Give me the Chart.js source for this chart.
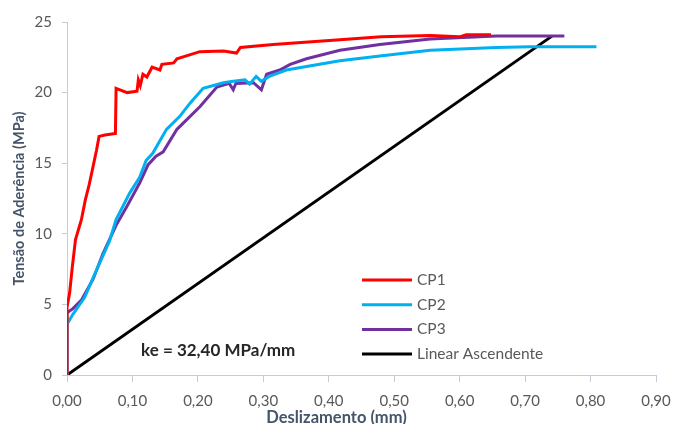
<!DOCTYPE html>
<html>
<head>
<meta charset="utf-8">
<script src="https://cdn.jsdelivr.net/npm/chart.js@4/dist/chart.umd.min.js"></script>
<style>
html,body{margin:0;padding:0;background:#fff;}
canvas{display:block;}
</style>
</head>
<body>
<canvas id="c" width="673" height="424"></canvas>
<script>
// ---- data ----
const seriesNames = ['CP1', 'CP2', 'CP3', 'Linear Ascendente'];

const cp1Slip   = [0, 0, 0.004, 0.008, 0.013, 0.022, 0.028, 0.034, 0.040, 0.045, 0.049, 0.058, 0.074, 0.075, 0.092, 0.107, 0.109, 0.112, 0.116, 0.122, 0.130, 0.142, 0.145, 0.163, 0.168, 0.203, 0.239, 0.259, 0.265, 0.315, 0.417, 0.480, 0.555, 0.600, 0.610, 0.648];
const cp1Stress = [0, 4.8, 5.8, 7.6, 9.6, 11.0, 12.4, 13.5, 14.8, 15.9, 16.9, 17.0, 17.1, 20.3, 20.0, 20.1, 20.9, 20.5, 21.3, 21.1, 21.8, 21.6, 22.0, 22.1, 22.4, 22.9, 22.95, 22.8, 23.2, 23.4, 23.75, 23.95, 24.05, 23.95, 24.1, 24.1];

const cp2Slip   = [0, 0, 0.009, 0.027, 0.040, 0.065, 0.075, 0.096, 0.111, 0.121, 0.131, 0.152, 0.172, 0.188, 0.208, 0.239, 0.254, 0.272, 0.279, 0.289, 0.297, 0.309, 0.335, 0.417, 0.478, 0.555, 0.656, 0.707, 0.809];
const cp2Stress = [0, 3.6, 4.3, 5.5, 6.9, 9.5, 11.0, 12.9, 14.0, 15.2, 15.7, 17.4, 18.3, 19.25, 20.3, 20.7, 20.8, 20.9, 20.6, 21.15, 20.8, 21.15, 21.6, 22.25, 22.6, 23.0, 23.2, 23.25, 23.25];

const cp3Slip   = [0, 0, 0.009, 0.022, 0.040, 0.055, 0.075, 0.091, 0.111, 0.124, 0.136, 0.147, 0.168, 0.203, 0.229, 0.248, 0.254, 0.258, 0.285, 0.297, 0.305, 0.325, 0.341, 0.366, 0.417, 0.478, 0.555, 0.656, 0.760];
const cp3Stress = [0, 4.4, 4.7, 5.3, 6.8, 8.6, 10.6, 11.9, 13.6, 14.9, 15.5, 15.8, 17.4, 19.0, 20.4, 20.65, 20.2, 20.65, 20.7, 20.2, 21.3, 21.6, 22.0, 22.4, 23.0, 23.4, 23.8, 24.0, 24.0];

const linearSlip   = [0, 0.741];
const linearStress = [0, 24.0];

const xTickLabels = ['0,00', '0,10', '0,20', '0,30', '0,40', '0,50', '0,60', '0,70', '0,80', '0,90'];
const yTickLabels = ['0', '5', '10', '15', '20', '25'];

const xTitle = 'Deslizamento (mm)';
const yTitle = 'Tensão de Aderência (MPa)';
const annotationText = 'ke = 32,40 MPa/mm';
const annotationAt = {x: 0.231, y: 1.7};

const colors = ['#ff0000', '#00b0f0', '#7030a0', '#000000'];

// ---- build ----
function pts(xs, ys) { return xs.map((x, i) => ({x: x, y: ys[i]})); }
const pairs = [[cp1Slip, cp1Stress], [cp2Slip, cp2Stress], [cp3Slip, cp3Stress], [linearSlip, linearStress]];

const datasets = pairs.map((p, i) => ({
  label: seriesNames[i],
  data: pts(p[0], p[1]),
  borderColor: colors[i],
  backgroundColor: colors[i],
  borderWidth: 3,
  pointRadius: 0,
  tension: 0,
  fill: false
}));

const FONT = 'Lato, "Open Sans", sans-serif';
const AXIS = '#c3ccd8';
const LABEL = '#595959';
const TITLE = '#44546a';

const extras = {
  id: 'extras',
  afterDraw(chart) {
    const ctx = chart.ctx;
    const xs = chart.scales.x, ys = chart.scales.y;
    const area = chart.chartArea;
    ctx.save();
    // annotation
    ctx.font = 'bold 17px ' + FONT;
    ctx.fillStyle = '#262626';
    ctx.textAlign = 'center';
    ctx.textBaseline = 'middle';
    ctx.fillText(annotationText, xs.getPixelForValue(annotationAt.x), ys.getPixelForValue(annotationAt.y));
    // x title centered on canvas
    ctx.font = 'bold 16.5px ' + FONT;
    ctx.fillStyle = TITLE;
    ctx.fillText(xTitle, chart.width / 2, 418);
    // y title
    ctx.save();
    ctx.translate(19, (area.top + area.bottom) / 2);
    ctx.rotate(-Math.PI / 2);
    ctx.font = 'bold 14.5px ' + FONT;
    ctx.fillText(yTitle, 0, 0);
    ctx.restore();
    // legend
    const lx = 362, ly = 280, gap = 24.7;
    ctx.font = '15.5px ' + FONT;
    ctx.textAlign = 'left';
    chart.data.datasets.forEach((d, i) => {
      const y = ly + i * gap;
      ctx.strokeStyle = d.borderColor;
      ctx.lineWidth = 3;
      ctx.beginPath();
      ctx.moveTo(lx, y);
      ctx.lineTo(lx + 50, y);
      ctx.stroke();
      ctx.fillStyle = LABEL;
      ctx.fillText(d.label, lx + 55, y);
    });
    ctx.restore();
  }
};

new Chart(document.getElementById('c'), {
  type: 'line',
  data: {datasets: datasets},
  plugins: [extras],
  options: {
    responsive: false,
    animation: false,
    devicePixelRatio: 1,
    layout: {padding: {top: 22, right: 17, left: 0, bottom: 0}},
    plugins: {legend: {display: false}, tooltip: {enabled: false}},
    scales: {
      x: {
        type: 'linear',
        min: 0, max: 0.9,
        afterFit: s => { s.height = 49; s.paddingLeft = 0; s.paddingRight = 0; },
        ticks: {
          stepSize: 0.1,
          padding: 10,
          maxRotation: 0,
          autoSkip: false,
          color: LABEL,
          font: {family: FONT, size: 15},
          callback: (v, i) => xTickLabels[i]
        },
        grid: {drawOnChartArea: false, drawTicks: true, tickLength: 7, color: AXIS},
        border: {display: true, color: AXIS, width: 1}
      },
      y: {
        type: 'linear',
        min: 0, max: 25,
        afterFit: s => { s.width = 67; s.paddingTop = 0; s.paddingBottom = 0; },
        ticks: {
          stepSize: 5,
          padding: 10,
          color: LABEL,
          font: {family: FONT, size: 15},
          callback: (v, i) => yTickLabels[i]
        },
        grid: {drawOnChartArea: false, drawTicks: true, tickLength: 5, color: AXIS},
        border: {display: true, color: AXIS, width: 1}
      }
    }
  }
});
</script>
</body>
</html>
